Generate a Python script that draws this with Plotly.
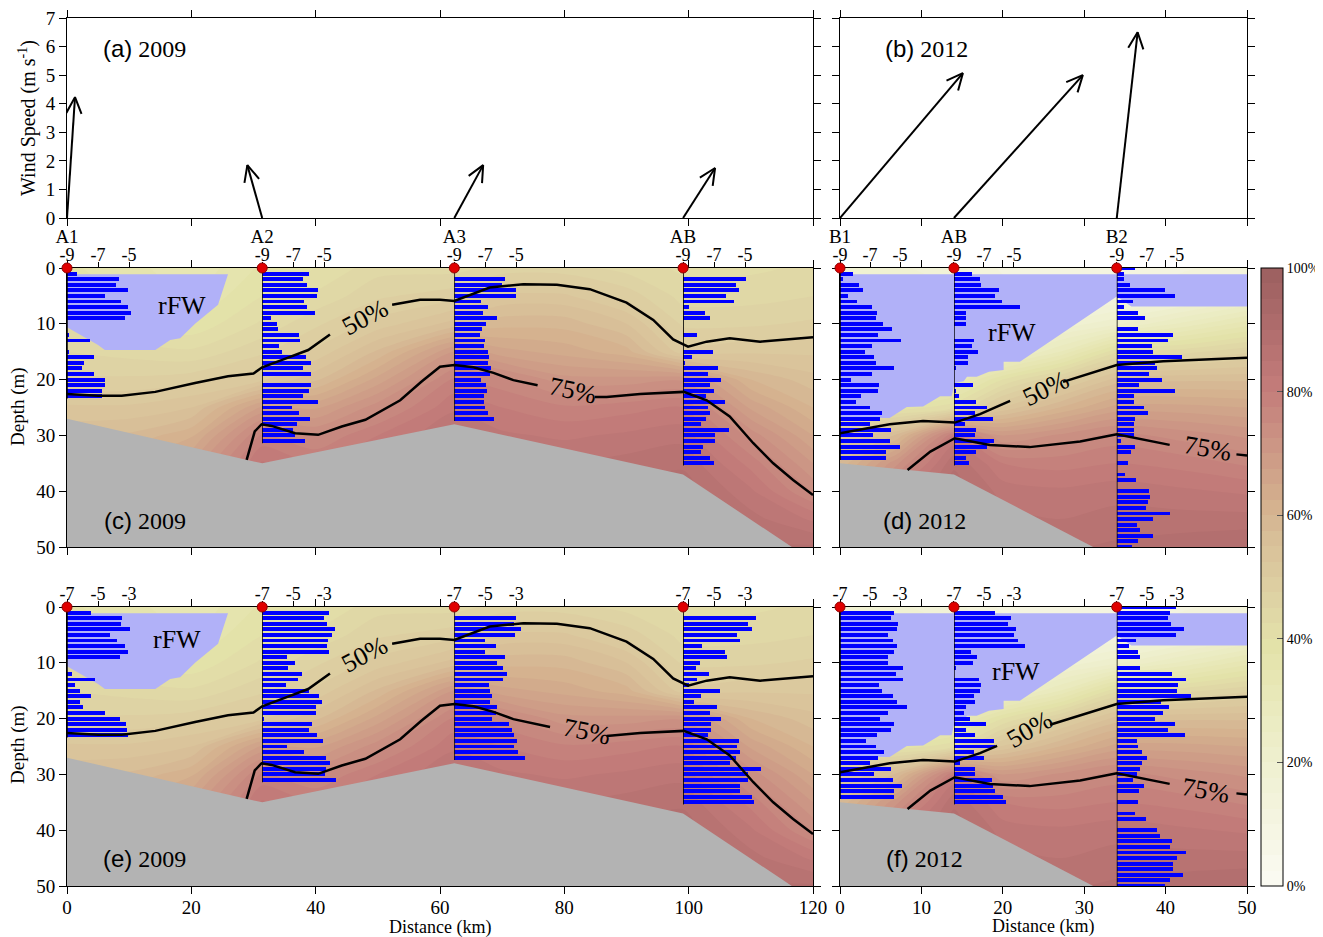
import math
import numpy as np
import plotly.graph_objects as go

W, H = 1323, 937           # target picture size
OFF = 8                    # the page body offsets the figure by this many pixels
FW, FH = W - OFF, H - OFF  # figure size so that it fits in the window without scrolling
FONT = "Liberation Serif"
SANS = "Liberation Sans"


def fx(px):
    return (px - OFF) / FW


def fy(py):
    return 1 - (py - OFF) / FH


# ---------------- stations ----------------
stations_2009 = ["A1", "A2", "A3", "AB"]
station_km_2009 = [0.0, 31.4, 62.3, 99.1]
stations_2012 = ["B1", "AB", "B2"]
station_km_2012 = [0.0, 14.0, 34.0]

# ---------------- wind (m/s) ----------------
wind_u_2009 = [0.28, -0.52, 1.01, 1.12]
wind_v_2009 = [4.23, 1.85, 1.85, 1.75]
wind_u_2012 = [4.30, 4.51, 0.73]
wind_v_2012 = [5.07, 5.00, 6.50]

# ---------------- rFW fraction field (%), one profile per distance ----------------
grid_depth = [0, 5, 10, 15, 20, 25, 30, 35, 40, 45, 50]
grid_km_2009 = [0, 10, 20, 31.4, 40, 50, 62.3, 70, 80, 90, 99.1, 110, 120]
profiles_2009 = [
    [38, 40, 42, 45, 48, 53, 57, 60, 62, 64, 66],
    [36, 37, 40, 44, 48, 53, 58, 63, 66, 68, 70],
    [33, 35, 38, 43, 49, 55, 62, 68, 72, 74, 76],
    [38, 40, 43, 47, 52, 68, 78, 83, 85, 86, 87],
    [40, 43, 47, 50.5, 57, 67, 75, 80, 84, 86, 87],
    [44, 47, 51, 58, 66, 74, 80, 84, 87, 88, 89],
    [44, 49, 56, 70, 78, 82, 85, 87, 88, 89, 90],
    [46, 53, 59, 66, 76, 80, 83, 86, 88, 89, 90],
    [46, 53, 59, 64, 71, 78, 82, 85, 87, 88, 90],
    [44, 49, 55, 61, 71, 79, 83, 86, 88, 89, 90],
    [42, 44, 47, 51, 72, 80, 84, 87, 89, 90, 91],
    [42, 44, 47, 52, 60, 67, 74, 79, 83, 86, 88],
    [43, 45, 48, 52, 56, 60, 65, 70, 74.5, 82, 88],
]
grid_km_2012 = [0, 7, 14, 20, 27, 34, 42, 50]
profiles_2012 = [
    [20, 22, 24, 27, 31, 36, 52, 58, 62, 65, 67],
    [18, 20, 22, 25, 30, 38, 58, 72, 80, 84, 86],
    [16, 18, 20, 24, 30, 42, 80, 87, 89, 90, 91],
    [12, 14, 17, 22, 40, 53, 70, 80, 84, 86, 88],
    [10, 12, 18, 30, 48, 60, 73, 79, 83, 85, 87],
    [10, 12, 22, 42, 56, 66, 76, 80, 84, 86, 88],
    [12, 15, 28, 44, 57, 66, 74, 79, 83, 86, 89],
    [14, 20, 34, 47, 57, 65, 72, 77, 82, 86, 90],
]

# ---------------- bathymetry ----------------
bathy_km_2009 = [0.0, 31.4, 62.3, 99.1, 116.6]
bathy_depth_2009 = [27.0, 35.0, 28.0, 37.0, 50.0]
bathy_km_2012 = [0.0, 14.0, 31.1]
bathy_depth_2012 = [35.0, 37.0, 50.0]

# ---------------- rFW region outline ----------------
rfw_km_2009 = [0.0, 25.9, 24.3, 20.6, 18.2, 16.6, 14.2, 6.1, 5.0, 0.0]
rfw_depth_2009 = [1.1, 1.1, 6.6, 10.0, 12.6, 12.9, 14.7, 14.7, 13.8, 10.6]
rfw_km_2012 = [0.0, 50.0, 50.0, 35.8, 34.0, 22.1, 20.1, 20.1, 18.3, 16.8, 15.6, 15.2,
               14.1, 13.7, 12.3, 10.2, 8.2, 6.1, 4.9, 0.0]
rfw_depth_2012 = [1.1, 1.1, 6.9, 6.9, 5.1, 16.8, 16.8, 18.3, 18.6, 19.5, 19.5, 20.3,
                  20.6, 23.0, 23.0, 24.8, 24.9, 26.9, 26.9, 27.4]

# ---------------- 50% / 75% isolines ----------------
iso50_km_2009 = [0.0, 5.0, 8.8, 14.2, 20.6, 25.9, 30.0, 31.4, 34.5, 38.8, 42.3, 52.3, 56.8, 60.0,
                 62.3, 68.0, 73.4, 78.8, 84.1, 90.0, 94.3, 97.5, 99.9, 102.9, 106.6, 111.5, 120.0]
iso50_depth_2009 = [22.6, 22.9, 22.9, 22.2, 20.6, 19.4, 18.9, 17.8, 16.5, 14.7, 11.9, 6.6, 5.7, 5.7,
                    5.9, 3.5, 2.9, 3.0, 3.8, 6.2, 9.3, 12.8, 14.1, 13.2, 12.6, 13.2, 12.4]
iso75_km_2009 = [28.9, 30.2, 31.3, 32.9, 36.7, 40.4, 44.2, 48.0, 53.6, 57.0, 60.0, 62.3, 65.4, 68.6,
                 71.8, 75.7, 77.7, 84.9, 86.8, 92.2, 99.2, 102.9, 106.6, 110.4, 113.6, 116.8, 120.0]
iso75_depth_2009 = [34.4, 29.3, 28.0, 28.3, 29.6, 29.9, 28.4, 27.2, 23.7, 20.4, 17.7, 17.4, 17.8, 18.8,
                    20.1, 21.0, 21.5, 23.1, 23.1, 22.6, 22.2, 23.7, 26.6, 31.4, 35.0, 38.0, 40.7]
iso50_km_2012 = [0.0, 6.1, 10.2, 14.1, 17.2, 19.3, 20.9, 25.8, 27.4, 34.0, 39.7, 50.0]
iso50_depth_2012 = [29.6, 28.0, 27.4, 27.7, 26.2, 24.9, 23.8, 21.1, 20.4, 17.4, 16.7, 16.1]
iso75_km_2012 = [8.3, 11.1, 14.1, 18.4, 23.3, 29.5, 34.0, 40.5, 48.7, 50.0]
iso75_depth_2012 = [36.2, 32.9, 30.5, 31.7, 32.1, 31.1, 29.8, 31.7, 33.4, 33.6]

# ---------------- station profiles (bars), first depth + value per metre ----------------
c_first = [1, 1, 2, 2]
c_A1 = [-8.35, -5.62, -5.82, -5.06, -6.55, -5.49, -5.06, -4.85, -5.24, None, None, -8.9, -7.52, None,
        -8.87, -7.24, -7.88, -8.03, -7.24, -6.55, -6.55, -6.74, -6.74]
c_A2 = [-5.99, -6.38, -6.12, -5.41, -5.47, -6.31, -6.12, -5.60, -8.44, -8.05, -7.99, -6.63, -6.57,
        -7.92, -7.73, -6.18, -5.86, -6.38, -5.86, None, -5.86, -5.99, -6.38, -5.41, -7.09, -6.63,
        -5.92, -6.76, -7.02, -6.89, -6.25]
c_A3 = [-5.69, -5.88, -4.98, -4.98, -7.24, -6.78, -7.11, -6.20, -6.91, -7.17, -7.30, -6.98, -7.04,
        -6.78, -6.72, -6.78, -6.59, -6.66, -7.24, -6.91, -6.85, -7.04, -7.04, -6.98, -6.78, -6.40]
c_AB = [-4.94, -5.58, -5.39, -6.23, -5.71, -8.61, -7.58, -7.26, None, None, -8.10, None, None, -7.06,
        -8.42, -8.87, -6.74, -7.39, -6.55, -7.24, -6.98, -7.49, -6.27, -7.37, -7.24, -7.49, -7.82,
        -6.01, -6.91, -6.91, -7.69, -7.82, -7.24, -6.98]
d_first = [1, 1, 0]
d_B1 = [-8.11, -8.78, -7.71, -7.44, -8.44, -7.84, -6.84, -6.51, -6.58, -6.11, -5.51, -6.44, -4.91,
        -6.84, -7.31, -6.71, -6.58, -5.38, -6.84, -8.24, -6.38, -6.44, -7.58, -7.91, -6.98, -6.18,
        -6.31, -6.98, -5.58, -6.78, -5.64, -4.98, -5.91, -5.91]
d_AB = [-7.80, -7.27, -7.20, -6.00, -6.27, -5.80, -4.60, -8.20, -8.20, -8.20, None, None, -7.67, -7.80,
        -7.40, -8.07, -8.07, -8.87, None, None, -7.73, -8.87, -8.67, -7.53, -6.80, -7.60, -6.40,
        -8.27, -7.53, -7.60, -6.33, -6.80, -7.53, -8.20, -8.00]
d_B2 = [-7.82, -8.56, -8.56, -8.16, -5.82, -5.16, -7.96, -8.56, -7.62, -7.16, None, -7.62, -5.29,
        -5.62, -6.69, -6.62, -4.69, -6.49, -6.36, -6.89, -6.02, -7.56, -5.16, -7.89, -7.89, -7.22,
        -6.96, -7.82, -7.89, -7.89, -7.89, -8.76, -7.82, -8.09, None, -8.29, None, -8.49, -7.76,
        None, -6.89, -6.82, -6.96, -7.09, -5.49, -6.62, -7.69, -7.49, -6.62, -7.62, -8.02]
e_first = [1, 1, 2, 2]
e_A1 = [-5.43, -3.46, -3.52, -2.93, -4.24, -3.78, -3.26, -3.07, -3.59, None, None, -6.65, -5.17,
        -6.48, -6.15, -5.43, -6.15, -5.96, -4.52, -3.59, -3.20, -3.13, -3.07]
e_A2 = [-2.65, -2.98, -2.78, -2.26, -2.46, -2.72, -2.78, -2.65, -5.39, -4.87, -5.33, -4.41, -4.67,
        -5.46, -3.96, -3.30, -3.11, -3.50, -3.50, -6.85, -3.76, -3.96, -3.43, -3.04, -5.39, -4.28,
        -2.85, -2.59, -2.85, -2.91, -2.20]
e_A3 = [-3.02, -3.15, -2.69, -3.08, -4.97, -4.32, -4.97, -3.74, -4.20, -3.81, -3.61, -3.81, -4.71,
        -4.65, -4.58, -4.65, -4.20, -4.32, -4.52, -3.48, -3.29, -3.15, -2.95, -3.15, -2.89, -2.43]
e_AB = [-2.32, -2.78, -2.58, -3.49, -3.30, -5.77, -4.27, -4.14, -5.90, -6.16, -5.31, -6.09, -6.61,
        -4.60, -5.83, -6.29, -4.79, -5.25, -4.53, -5.18, -5.18, -5.38, -3.36, -3.49, -3.30, -3.56,
        -3.95, -2.00, -2.78, -2.78, -3.30, -3.30, -2.58, -2.39]
f_first = [1, 1, 0]
f_B1 = [-3.37, -3.63, -3.11, -3.17, -3.77, -3.44, -3.17, -3.37, -3.83, -3.83, -2.78, -3.24, -2.78,
        -4.42, -4.22, -3.44, -3.17, -2.52, -3.77, -4.36, -3.37, -3.57, -4.55, -5.27, -4.62, -4.09,
        -4.49, -5.01, -3.63, -4.75, -3.50, -2.85, -3.37, -3.37]
f_AB = [-4.25, -3.20, -3.39, -2.87, -3.00, -2.74, -2.28, -5.89, -5.49, -5.75, -6.93, None, -5.36,
        -5.23, -5.29, -5.69, -5.62, -6.21, -6.34, -5.95, -4.84, -6.21, -5.62, -4.31, -4.25, -5.69,
        -5.03, -6.61, -5.62, -5.62, -4.44, -4.38, -4.25, -3.72, -3.52]
f_B2 = [-3.09, -3.48, -3.61, -3.42, -2.56, -3.09, -5.71, -6.23, -5.58, -5.45, None, -5.45, -3.35,
        -2.43, -2.96, -3.02, -2.10, -4.07, -3.55, -3.94, -4.46, -3.15, -3.61, -2.50, -5.64, -5.58,
        -5.32, -4.99, -5.32, -5.45, -5.64, -5.91, -5.19, -5.51, None, -5.58, None, -5.78, -5.06,
        None, -4.33, -4.13, -3.35, -3.48, -2.43, -3.02, -3.28, -3.28, -2.63, -3.48, -3.81]

colorbar_ticks = [0, 20, 40, 60, 80, 100]

# ---------------- styling ----------------
colorscale = [
    [0.00, "#fbfbf3"], [0.10, "#f5f5e2"], [0.20, "#eff0d0"], [0.30, "#e9e9bb"],
    [0.38, "#e4e3aa"], [0.45, "#dfd5a5"], [0.55, "#d9c29a"], [0.62, "#d4b08e"],
    [0.70, "#cd9a86"], [0.80, "#c47d7b"], [0.90, "#b06d6d"], [1.00, "#9b5f5f"],
]
BAR_BLUE = "#0000ff"
RFW_FILL = "#b1b1f8"
GRAY = "#b3b3b3"

LX = [fx(67), fx(813)]
RX = [fx(840), fx(1247)]
YA = [fy(218), fy(18)]
YC = [fy(547), fy(268)]
YE = [fy(886), fy(607)]

tickfont = dict(family=FONT, size=19, color="black")
axis_common = dict(showline=True, linecolor="black", linewidth=1, mirror="ticks",
                   ticks="outside", ticklen=7, tickwidth=1, tickcolor="black",
                   showgrid=False, zeroline=False, tickfont=tickfont, automargin=False,
                   ticklabeloverflow="allow")

fig = go.Figure()
layout_axes = {}
annotations = []

# ---------------- wind panels ----------------
def add_wind(xa, ya, km, u, v, dom_x, rng_x, dom_y, rng_y):
    px_per_km = (dom_x[1] - dom_x[0]) * FW / (rng_x[1] - rng_x[0])
    px_per_ms = (dom_y[1] - dom_y[0]) * FH / (rng_y[1] - rng_y[0])
    head_len, head_ang = 18.0, math.radians(25)
    for s, uu, vv in zip(km, u, v):
        dx, dy = uu * px_per_ms, vv * px_per_ms
        n = math.hypot(dx, dy)
        bx, by = -dx / n, -dy / n
        xs, ys = [s, s + dx / px_per_km, None], [0, vv, None]
        for sgn in (1, -1):
            ca, sa = math.cos(sgn * head_ang), math.sin(sgn * head_ang)
            rx, ry = bx * ca - by * sa, bx * sa + by * ca
            xs += [s + (dx + head_len * rx) / px_per_km]
            ys += [(dy + head_len * ry) / px_per_ms]
            if sgn == 1:
                xs += [s + dx / px_per_km]
                ys += [vv]
        fig.add_trace(go.Scatter(x=xs, y=ys, mode="lines", line=dict(color="black", width=2),
                                 xaxis=xa, yaxis=ya, showlegend=False, cliponaxis=False,
                                 hoverinfo="skip"))

add_wind("x", "y", station_km_2009, wind_u_2009, wind_v_2009, LX, [0, 120], YA, [0, 7])
add_wind("x2", "y2", station_km_2012, wind_u_2012, wind_v_2012, RX, [0, 50], YA, [0, 7])

layout_axes["xaxis"] = dict(axis_common, domain=LX, range=[0, 120], anchor="y",
                            tickvals=station_km_2009, ticktext=stations_2009,
                            tickcolor="rgba(0,0,0,0)", ticklen=1,
                            minor=dict(tickvals=list(range(0, 121, 20)), ticks="outside",
                                       ticklen=7, tickcolor="black", showgrid=False))
layout_axes["yaxis"] = dict(axis_common, domain=YA, range=[0, 7], anchor="x",
                            tickvals=list(range(0, 8)))
layout_axes["xaxis2"] = dict(axis_common, domain=RX, range=[0, 50], anchor="y2",
                             tickvals=station_km_2012, ticktext=stations_2012,
                             tickcolor="rgba(0,0,0,0)", ticklen=1,
                             minor=dict(tickvals=list(range(0, 51, 10)), ticks="outside",
                                        ticklen=7, tickcolor="black", showgrid=False))
layout_axes["yaxis2"] = dict(axis_common, domain=YA, range=[0, 7], anchor="x2",
                             tickvals=list(range(0, 8)), showticklabels=False)


def masked(xs, ys, gap):
    ox, oy, prev = [], [], None
    for x, y in zip(xs, ys):
        if gap[0] < x < gap[1]:
            continue
        if prev is not None and prev <= gap[0] and x >= gap[1]:
            ox.append(None)
            oy.append(None)
        ox.append(x)
        oy.append(y)
        prev = x
    return ox, oy


next_axis = [7]


def depth_panel(n, dom_x, dom_y, xmax, grid_km, profiles, bathy_km, bathy_d, rfw_km, rfw_d,
                iso50, iso75, gap50, gap75, st_km, st_first, st_vals, bar_base, unit_px,
                show_labels_x, show_labels_y, show_scale, line_axis_num):
    xa, ya = ("x%d" % n), ("y%d" % n)
    z = np.array(profiles, dtype=float).T
    cont = go.Contour(x=grid_km, y=grid_depth, z=z, zmin=0, zmax=100, zauto=False,
                      colorscale=colorscale, autocontour=False,
                      contours=dict(start=0, end=100, size=2.5, coloring="fill", showlines=False),
                      line=dict(width=0, smoothing=0.8), xaxis=xa, yaxis=ya,
                      showscale=show_scale, hoverinfo="skip")
    if show_scale:
        cont.colorbar = dict(x=fx(1261), xanchor="left", y=fy(886), yanchor="bottom",
                             len=(886 - 268) / FH, lenmode="fraction", thickness=22,
                             thicknessmode="pixels", outlinewidth=1, outlinecolor="black",
                             tickvals=colorbar_ticks, ticktext=["%d%%" % t for t in colorbar_ticks],
                             ticks="inside", ticklen=6, tickcolor="#555555",
                             ticklabeloverflow="allow",
                             tickfont=dict(family=FONT, size=14, color="black"), xpad=0, ypad=0)
    fig.add_trace(cont)
    # bathymetry
    fig.add_trace(go.Scatter(x=bathy_km + [bathy_km[-1], bathy_km[0]],
                             y=bathy_d + [50, 50], fill="toself", fillcolor=GRAY,
                             mode="lines", line=dict(width=0, color=GRAY), xaxis=xa, yaxis=ya,
                             showlegend=False, hoverinfo="skip"))
    # rFW region
    fig.add_trace(go.Scatter(x=rfw_km, y=rfw_d, fill="toself", fillcolor=RFW_FILL,
                             mode="lines", line=dict(width=0, color=RFW_FILL), xaxis=xa, yaxis=ya,
                             showlegend=False, hoverinfo="skip"))
    layout_axes["xaxis%d" % n] = dict(axis_common, domain=dom_x, range=[0, xmax], anchor=ya,
                                      tickvals=list(range(0, xmax + 1, 20 if xmax > 60 else 10)),
                                      showticklabels=show_labels_x, ticklabelstandoff=-3)
    layout_axes["yaxis%d" % n] = dict(axis_common, domain=dom_y, range=[50, 0], anchor=xa,
                                      tickvals=list(range(0, 51, 10)),
                                      showticklabels=show_labels_y)
    # station bar profiles, each on its own small axis
    span_px = 110.0
    for km, first, vals in zip(st_km, st_first, st_vals):
        k = next_axis[0]
        next_axis[0] += 1
        frac0 = dom_x[0] + km / xmax * (dom_x[1] - dom_x[0])
        sxa = "x%d" % k
        layout_axes["xaxis%d" % k] = dict(
            domain=[frac0, frac0 + span_px / FW], range=[bar_base, bar_base + span_px / unit_px],
            anchor=ya, side="top", tickvals=[bar_base, bar_base + 2, bar_base + 4],
            ticktext=["%d" % bar_base, "%d" % (bar_base + 2), "%d" % (bar_base + 4)],
            ticks="outside", ticklen=5, tickcolor="black", showline=False, showgrid=False,
            zeroline=False, tickfont=dict(family=FONT, size=18, color="black"),
            ticklabelstandoff=-6, ticklabeloverflow="allow", automargin=False)
        depths = [first + i for i, v in enumerate(vals) if v is not None]
        lens = [v - bar_base for v in vals if v is not None]
        fig.add_trace(go.Bar(x=lens, y=depths, base=bar_base, orientation="h", width=0.7,
                             marker=dict(color=BAR_BLUE, line=dict(width=0)),
                             xaxis=sxa, yaxis=ya, showlegend=False, hoverinfo="skip"))
        last = first + len(vals) - 1
        fig.add_trace(go.Scatter(x=[bar_base, bar_base], y=[0, last + 0.4], mode="lines",
                                 line=dict(color="black", width=1.5), xaxis=sxa, yaxis=ya,
                                 showlegend=False, hoverinfo="skip"))
    # isolines and station markers on a top layer
    lxa = "x%d" % line_axis_num
    layout_axes["xaxis%d" % line_axis_num] = dict(domain=dom_x, range=[0, xmax], anchor=ya,
                                                  visible=False)
    for (kx, ky), gap in ((iso50, gap50), (iso75, gap75)):
        mx, my = masked(kx, ky, gap)
        fig.add_trace(go.Scatter(x=mx, y=my, mode="lines", line=dict(color="black", width=2.5),
                                 connectgaps=False, xaxis=lxa, yaxis=ya, showlegend=False,
                                 hoverinfo="skip"))
    fig.add_trace(go.Scatter(x=st_km, y=[0] * len(st_km), mode="markers",
                             marker=dict(color="#e00000", size=10,
                                         line=dict(color="#900000", width=1)),
                             cliponaxis=False, xaxis=lxa, yaxis=ya, showlegend=False,
                             hoverinfo="skip"))


depth_panel(3, LX, YC, 120, grid_km_2009, profiles_2009, bathy_km_2009, bathy_depth_2009,
            rfw_km_2009, rfw_depth_2009, (iso50_km_2009, iso50_depth_2009),
            (iso75_km_2009, iso75_depth_2009), (42.3, 52.3), (75.7, 84.9),
            station_km_2009, c_first, [c_A1, c_A2, c_A3, c_AB], -9, 15.5,
            False, True, True, 21)
depth_panel(4, RX, YC, 50, grid_km_2012, profiles_2012, bathy_km_2012, bathy_depth_2012,
            rfw_km_2012, rfw_depth_2012, (iso50_km_2012, iso50_depth_2012),
            (iso75_km_2012, iso75_depth_2012), (20.9, 27.4), (40.5, 48.7),
            station_km_2012, d_first, [d_B1, d_AB, d_B2], -9, 15.0,
            False, False, False, 22)
depth_panel(5, LX, YE, 120, grid_km_2009, profiles_2009, bathy_km_2009, bathy_depth_2009,
            rfw_km_2009, rfw_depth_2009, (iso50_km_2009, iso50_depth_2009),
            (iso75_km_2009, iso75_depth_2009), (42.3, 52.3), (77.7, 86.8),
            station_km_2009, e_first, [e_A1, e_A2, e_A3, e_AB], -7, 15.5,
            True, True, False, 23)
depth_panel(6, RX, YE, 50, grid_km_2012, profiles_2012, bathy_km_2012, bathy_depth_2012,
            rfw_km_2012, rfw_depth_2012, (iso50_km_2012, iso50_depth_2012),
            (iso75_km_2012, iso75_depth_2012), (19.3, 25.8), (40.5, 48.7),
            station_km_2012, f_first, [f_B1, f_AB, f_B2], -7, 15.0,
            True, False, False, 24)

# ---------------- text ----------------
def label(xref, yref, x, y, text, size=24, angle=0, family=FONT):
    annotations.append(dict(xref=xref, yref=yref, x=x, y=y, text=text, showarrow=False,
                            textangle=angle, xanchor="center", yanchor="middle",
                            font=dict(family=family, size=size, color="black")))


def plab(letter, year):
    return "<span style='font-family:%s'>(%s)</span> %s" % (SANS, letter, year)


label("x", "y", 12.5, 5.94, plab("a", "2009"))
label("x2", "y2", 10.6, 5.94, plab("b", "2012"))
label("x3", "y3", 12.5, 45.2, plab("c", "2009"))
label("x4", "y4", 10.4, 45.2, plab("d", "2012"))
label("x5", "y5", 12.5, 45.0, plab("e", "2009"))
label("x6", "y6", 10.4, 45.0, plab("f", "2012"))

label("x3", "y3", 18.5, 6.8, "rFW", 26)
label("x4", "y4", 21.1, 11.6, "rFW", 26)
label("x5", "y5", 17.7, 5.9, "rFW", 26)
label("x6", "y6", 21.6, 11.5, "rFW", 26)

label("x3", "y3", 47.9, 8.8, "50%", 26, -28)
label("x3", "y3", 81.4, 21.9, "75%", 26, 12)
label("x5", "y5", 47.9, 8.6, "50%", 26, -28)
label("x5", "y5", 83.6, 22.3, "75%", 26, 12)
label("x4", "y4", 25.3, 21.6, "50%", 26, -26)
label("x4", "y4", 45.2, 32.3, "75%", 26, 10)
label("x6", "y6", 23.3, 22.0, "50%", 26, -30)
label("x6", "y6", 45.0, 32.8, "75%", 26, 10)

label("paper", "paper", fx(28), fy(118), "Wind Speed (m s<sup>-1</sup>)", 20, -90)
label("paper", "paper", fx(18), fy(407), "Depth (m)", 19, -90)
label("paper", "paper", fx(18), fy(745), "Depth (m)", 19, -90)
label("paper", "paper", fx(440), fy(927), "Distance (km)", 18)
label("paper", "paper", fx(1043), fy(926), "Distance (km)", 18)

fig.update_layout(width=FW, height=FH, autosize=False,
                  margin=dict(l=0, r=0, t=0, b=0, pad=0, autoexpand=False),
                  paper_bgcolor="white", plot_bgcolor="rgba(0,0,0,0)", showlegend=False,
                  annotations=annotations, bargap=0, font=dict(family=FONT, color="black"),
                  **layout_axes)

fig.write_html("out.html")
